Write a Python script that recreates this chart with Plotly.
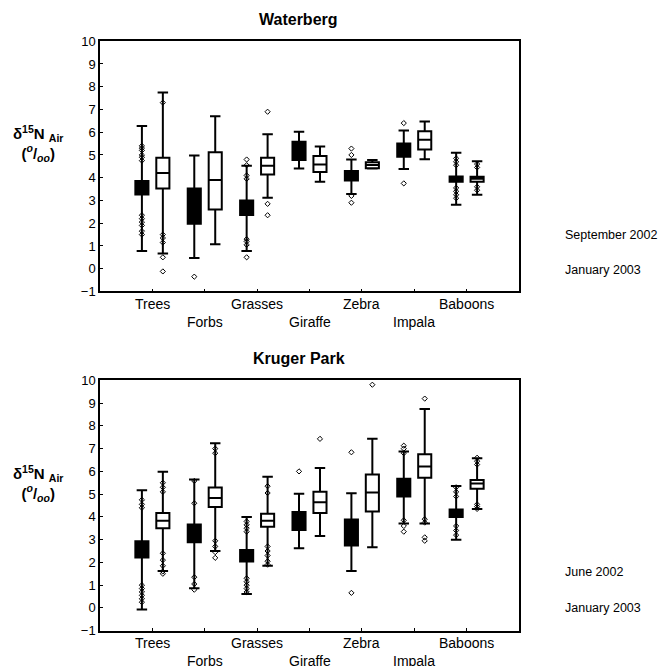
import plotly.graph_objects as go

categories = ["Trees", "Forbs", "Grasses", "Giraffe", "Zebra", "Impala", "Baboons"]
row1_labels = ["Trees", "", "Grasses", "", "Zebra", "", "Baboons"]
row2_labels = ["", "Forbs", "", "Giraffe", "", "Impala", ""]

# ---------------- Waterberg ----------------
wb_sep_q1 = [3.26, 1.98, 2.36, 4.78, 3.88, 4.92, 3.82]
wb_sep_med = [3.55, 2.75, 2.65, 5.20, 4.08, 5.20, 3.93]
wb_sep_q3 = [3.86, 3.52, 3.00, 5.58, 4.30, 5.50, 4.05]
wb_sep_lo = [0.78, 0.47, 0.78, 4.40, 3.28, 4.38, 2.81]
wb_sep_hi = [6.27, 4.98, 4.52, 6.02, 4.80, 6.08, 5.10]
wb_sep_out = [
    [5.4, 5.3, 5.2, 5.0, 4.9, 4.75, 2.35, 2.2, 2.05, 1.9, 1.65, 1.5],
    [-0.35],
    [4.8, 4.55, 4.1, 3.95, 1.3, 1.2, 1.05, 0.5],
    [],
    [5.28, 5.0, 3.2, 2.9],
    [6.4, 3.75],
    [4.85, 4.7, 4.55, 3.55, 3.4, 3.25, 3.1],
]

wb_jan_q1 = [3.53, 2.60, 4.14, 4.25, 4.42, 5.24, 3.82]
wb_jan_med = [4.21, 3.90, 4.52, 4.58, 4.56, 5.67, 3.95]
wb_jan_q3 = [4.88, 5.12, 4.88, 4.95, 4.68, 6.04, 4.04]
wb_jan_lo = [0.67, 1.08, 3.12, 3.82, 4.40, 4.81, 3.25]
wb_jan_hi = [7.74, 6.70, 5.91, 5.37, 4.78, 6.47, 4.72]
wb_jan_out = [
    [7.3, 1.5, 1.35, 1.15, 0.5, -0.12],
    [],
    [6.9, 2.85, 2.35],
    [],
    [],
    [],
    [4.6, 4.45, 3.6, 3.45],
]

# ---------------- Kruger Park ----------------
kp_jun_q1 = [2.21, 2.89, 2.04, 3.42, 2.74, 4.90, 3.99]
kp_jun_med = [2.55, 3.20, 2.30, 3.80, 3.30, 5.30, 4.15]
kp_jun_q3 = [2.93, 3.67, 2.54, 4.22, 3.89, 5.68, 4.32]
kp_jun_lo = [-0.07, 0.86, 0.61, 2.62, 1.62, 3.71, 2.99]
kp_jun_hi = [5.17, 5.64, 4.00, 5.02, 5.04, 6.87, 5.36]
kp_jun_out = [
    [4.75, 4.55, 4.4, 1.0, 0.85, 0.7, 0.55, 0.4, 0.25],
    [5.58, 4.6, 1.35, 1.05, 0.8],
    [3.8, 3.65, 3.5, 3.35, 1.3, 1.15, 1.0, 0.85, 0.7],
    [6.0],
    [6.84, 0.66],
    [7.13, 7.0, 6.8, 3.85, 3.6, 3.35],
    [5.3, 5.1, 4.9, 3.6, 3.4, 3.2],
]

kp_jan_q1 = [3.50, 4.43, 3.57, 4.17, 4.24, 5.72, 5.24]
kp_jan_med = [3.83, 4.83, 3.83, 4.64, 5.07, 6.22, 5.47]
kp_jan_q3 = [4.17, 5.29, 4.14, 5.11, 5.86, 6.75, 5.62]
kp_jan_lo = [1.62, 2.50, 1.85, 3.16, 2.66, 3.71, 4.35]
kp_jan_hi = [5.98, 7.24, 5.77, 6.15, 7.44, 8.74, 6.58]
kp_jan_out = [
    [5.5, 5.3, 5.1, 2.4, 2.1, 1.85, 1.6, 1.5],
    [7.0, 6.8, 2.95, 2.7, 2.45, 2.2],
    [5.35, 5.05, 2.7, 2.5, 2.3, 2.05, 1.9],
    [7.43],
    [9.81],
    [9.2, 3.9, 3.75, 3.1, 2.95],
    [6.6, 6.45, 6.3, 4.55, 4.45, 4.35],
]

y_ticks = list(range(-1, 11))

W, H = 668, 666
FONT = "Liberation Sans, Arial, Helvetica, sans-serif"
positions = list(range(1, len(categories) + 1))
OFF = 0.2


def px_x(p):
    return p / W


def px_y(p):
    return 1 - p / H


fig = go.Figure()


def add_panel(xa, ya, q1s, meds, q3s, los, his, outs, filled, offset):
    xs = [p + offset for p in positions]
    fig.add_trace(go.Box(
        x=xs, q1=q1s, median=meds, q3=q3s, lowerfence=los, upperfence=his,
        width=0.25, whiskerwidth=0.8, boxpoints=False,
        fillcolor="black" if filled else "white",
        line=dict(color="black", width=2),
        xaxis=xa, yaxis=ya, showlegend=False, hoverinfo="skip",
    ))
    ox, oy = [], []
    for x, vals in zip(xs, outs):
        for v in vals:
            ox.append(x)
            oy.append(v)
    fig.add_trace(go.Scatter(
        x=ox, y=oy, mode="markers",
        marker=dict(symbol="diamond-open", size=4, color="black", line=dict(width=1, color="black")),
        xaxis=xa, yaxis=ya, showlegend=False, hoverinfo="skip",
    ))


add_panel("x", "y", wb_sep_q1, wb_sep_med, wb_sep_q3, wb_sep_lo, wb_sep_hi, wb_sep_out, True, -OFF)
add_panel("x", "y", wb_jan_q1, wb_jan_med, wb_jan_q3, wb_jan_lo, wb_jan_hi, wb_jan_out, False, OFF)
add_panel("x2", "y2", kp_jun_q1, kp_jun_med, kp_jun_q3, kp_jun_lo, kp_jun_hi, kp_jun_out, True, -OFF)
add_panel("x2", "y2", kp_jan_q1, kp_jan_med, kp_jan_q3, kp_jan_lo, kp_jan_hi, kp_jan_out, False, OFF)

xdom = [px_x(100), px_x(519)]
top_dom = [px_y(291), px_y(35)]
bot_dom = [px_y(638), px_y(382)]

axis_common = dict(showgrid=False, zeroline=False, showline=True, mirror=True,
                   linecolor="black", linewidth=1.5, ticks="inside", ticklen=3,
                   tickcolor="black", tickfont=dict(family=FONT, size=13, color="black"))

fig.update_layout(
    width=W, height=H,
    margin=dict(l=0, r=0, t=0, b=0),
    paper_bgcolor="white", plot_bgcolor="white",
    font=dict(family=FONT, color="black"),
    xaxis=dict(domain=xdom, range=[0, 8], tickvals=positions, showticklabels=False,
               anchor="y", **axis_common),
    yaxis=dict(domain=top_dom, range=[-1, 10], tickvals=y_ticks, anchor="x", **axis_common),
    xaxis2=dict(domain=xdom, range=[0, 8], tickvals=positions, showticklabels=False,
                anchor="y2", **axis_common),
    yaxis2=dict(domain=bot_dom, range=[-1, 10], tickvals=y_ticks, anchor="x2", **axis_common),
)

ann = []


def label(text, x, y, size, xref="paper", xanchor="center"):
    ann.append(dict(text=text, x=x, y=px_y(y), xref=xref, yref="paper",
                    xanchor=xanchor, yanchor="middle", showarrow=False,
                    font=dict(size=size, family=FONT, color="black"), align="center"))


# panel titles
label("<b>Waterberg</b>", px_x(298), 13, 16)
label("<b>Kruger Park</b>", px_x(299), 360, 16)

# y-axis titles
ylab = "<b>δ<sup>15</sup>N <sub>Air</sub></b><br><b>(<sup><i>o</i></sup>/<sub><i>oo</i></sub>)</b>"
for yc in (140, 487):
    label(ylab, px_x(38), yc, 15)

# category labels (two rows)
for xa, r1, r2 in (("x", 304, 322), ("x2", 651, 669)):
    for p, a, b in zip(positions, row1_labels, row2_labels):
        if a:
            label(a, p, r1, 14, xref=xa)
        if b:
            label(b, p, r2, 14, xref=xa)

# season labels
for txt, yc in (("September 2002", 233), ("January 2003", 269), ("June 2002", 578), ("January 2003", 615)):
    label(txt, px_x(563), yc, 12.5, xanchor="left")

fig.update_layout(annotations=ann)

fig.write_html("out.html")
